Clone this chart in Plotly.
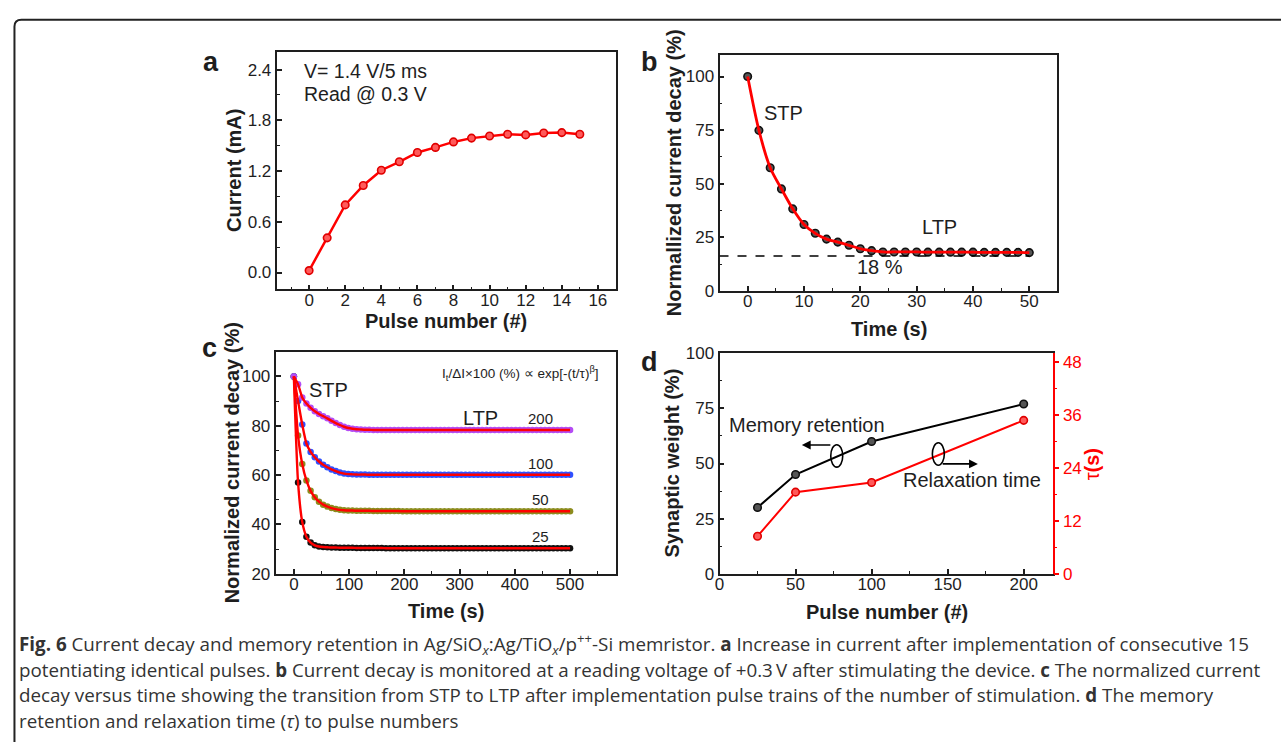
import plotly.graph_objects as go

W, H = 1281, 752

# ---------------- data ----------------
a_pulse = list(range(16))
a_current = [0.023, 0.41, 0.80, 1.03, 1.21, 1.31, 1.42, 1.48, 1.545, 1.59,
             1.615, 1.635, 1.628, 1.65, 1.655, 1.635]

b_time = list(range(0, 51, 2))
b_decay = [100, 74.9, 57.5, 47.6, 38.3, 31.0, 26.9, 24.2, 22.8, 21.3,
           19.7, 18.8, 18.2, 18.2, 18.2, 18.2, 18.1, 18.1, 18.1, 18.1,
           18.1, 18.0, 18.0, 18.0, 18.0, 17.9]
b_level = 16.3

c_time = [round(i * 500 / 66, 2) for i in range(67)]
c_25 = [100, 57.0, 41.0, 35.0, 32.6, 31.5, 31.0, 30.8, 30.7, 30.6,
        30.6, 30.5, 30.5, 30.5, 30.5, 30.4, 30.4, 30.4, 30.4, 30.4,
        30.4, 30.4, 30.3, 30.3, 30.3, 30.3, 30.3, 30.3, 30.3, 30.3,
        30.3, 30.3, 30.3, 30.3, 30.3, 30.3, 30.3, 30.3, 30.3, 30.3,
        30.3, 30.3, 30.3, 30.3, 30.3, 30.3, 30.3, 30.3, 30.3, 30.3,
        30.3, 30.3, 30.3, 30.3, 30.3, 30.3, 30.3, 30.3, 30.3, 30.3,
        30.3, 30.3, 30.3, 30.3, 30.3, 30.3, 30.3]
c_50 = [100, 76.0, 64.5, 57.8, 53.6, 51.0, 49.2, 48.0, 47.2, 46.6,
        46.2, 45.9, 45.7, 45.6, 45.6, 45.5, 45.5, 45.5, 45.5, 45.4,
        45.4, 45.4, 45.4, 45.4, 45.4, 45.4, 45.3, 45.3, 45.3, 45.3,
        45.3, 45.3, 45.3, 45.3, 45.3, 45.3, 45.3, 45.3, 45.3, 45.3,
        45.3, 45.3, 45.3, 45.3, 45.3, 45.3, 45.3, 45.3, 45.3, 45.3,
        45.3, 45.3, 45.3, 45.3, 45.3, 45.3, 45.3, 45.3, 45.3, 45.3,
        45.3, 45.3, 45.3, 45.3, 45.3, 45.3, 45.3]
c_100 = [100, 90.0, 80.5, 72.8, 69.4, 67.2, 65.5, 64.2, 63.2, 62.3,
         61.6, 61.0, 60.6, 60.4, 60.3, 60.2, 60.2, 60.2, 60.1, 60.1,
         60.1, 60.1, 60.1, 60.1, 60.1, 60.1, 60.1, 60.1, 60.1, 60.1,
         60.1, 60.1, 60.1, 60.1, 60.1, 60.1, 60.1, 60.1, 60.1, 60.1,
         60.1, 60.1, 60.1, 60.1, 60.1, 60.1, 60.1, 60.1, 60.1, 60.1,
         60.1, 60.1, 60.1, 60.1, 60.1, 60.1, 60.1, 60.1, 60.1, 60.1,
         60.1, 60.1, 60.1, 60.1, 60.1, 60.1, 60.1]
c_200 = [100, 96.8, 91.5, 89.0, 87.3, 85.9, 84.8, 83.9, 83.0, 82.0,
         81.1, 80.3, 79.6, 79.1, 78.8, 78.6, 78.5, 78.4, 78.4, 78.3,
         78.3, 78.3, 78.3, 78.3, 78.3, 78.3, 78.3, 78.3, 78.3, 78.3,
         78.3, 78.3, 78.3, 78.3, 78.3, 78.3, 78.3, 78.3, 78.3, 78.3,
         78.3, 78.3, 78.3, 78.3, 78.3, 78.3, 78.3, 78.3, 78.3, 78.3,
         78.3, 78.3, 78.3, 78.3, 78.3, 78.3, 78.3, 78.3, 78.3, 78.3,
         78.3, 78.3, 78.3, 78.3, 78.3, 78.3, 78.3]
c_series = [("25", c_25, "#111111"), ("50", c_50, "#8C8C1E"),
            ("100", c_100, "#2F50FF"), ("200", c_200, "#B44CF5")]

d_pulse = [25, 50, 100, 200]
d_weight = [30, 45, 60, 77]
d_tau = [8.5, 18.5, 20.7, 34.8]

# ---------------- helpers ----------------
def px(x):
    return x / W


def py(y):
    return 1 - y / H


FONT = "Liberation Sans, Arial, sans-serif"
INK = "#1e1e1e"
RED = "#FF0000"

RED_MK = dict(size=7.5, color="#FF5A5A", line=dict(color="#E00000", width=1.6))
BLK_MK = dict(size=7.5, color="#555555", line=dict(color="#111111", width=1.6))

fig = go.Figure()

# panel a
fig.add_trace(go.Scatter(x=a_pulse, y=a_current, mode="lines+markers",
                         line=dict(color=RED, width=2.5), marker=RED_MK,
                         xaxis="x", yaxis="y", showlegend=False))
# panel b
fig.add_trace(go.Scatter(x=b_time, y=b_decay, mode="markers", marker=BLK_MK,
                         xaxis="x2", yaxis="y2", showlegend=False))
fig.add_trace(go.Scatter(x=b_time, y=b_decay, mode="lines",
                         line=dict(color=RED, width=2.8, shape="spline", smoothing=0.8),
                         xaxis="x2", yaxis="y2", showlegend=False))
# panel c
for name, vals, col in c_series:
    fig.add_trace(go.Scatter(x=c_time, y=vals, mode="markers", name=name,
                             marker=dict(size=6.5, color=col),
                             xaxis="x3", yaxis="y3", showlegend=False))
for name, vals, col in c_series:
    fig.add_trace(go.Scatter(x=c_time, y=vals, mode="lines",
                             line=dict(color=RED, width=2.4, shape="spline", smoothing=0.6),
                             xaxis="x3", yaxis="y3", showlegend=False))
# panel d
fig.add_trace(go.Scatter(x=d_pulse, y=d_weight, mode="lines+markers",
                         line=dict(color="#000", width=2), marker=BLK_MK,
                         xaxis="x4", yaxis="y4", showlegend=False))
fig.add_trace(go.Scatter(x=d_pulse, y=d_tau, mode="lines+markers",
                         line=dict(color=RED, width=2), marker=RED_MK,
                         xaxis="x4", yaxis="y5", showlegend=False))


def ax(domain, rng, dtick, minor_dtick, anchor, fmt=None, mirror=True, **kw):
    d = dict(domain=domain, range=rng, dtick=dtick, tick0=0, anchor=anchor,
             showline=True, linecolor=INK, linewidth=1.8, mirror=mirror,
             ticks="inside", ticklen=5, tickwidth=1.5, tickcolor=INK,
             showgrid=False, zeroline=False,
             tickfont=dict(family=FONT, size=17, color=INK),
             minor=dict(ticks="inside", ticklen=3, tickwidth=1.2, tickcolor=INK,
                        dtick=minor_dtick, tick0=0, showgrid=False))
    if fmt:
        d["tickformat"] = fmt
    d.update(kw)
    return d


XSO = -6  # pull x tick labels closer to the axis line

fig.update_layout(
    width=W, height=H, margin=dict(l=0, r=0, t=0, b=0),
    paper_bgcolor="white", plot_bgcolor="white",
    font=dict(family=FONT, color=INK),
    xaxis=ax([px(272.7), px(613.3)], [-1.8, 17.0], 2, 1, "y", ticklabelstandoff=XSO),
    yaxis=ax([py(287.7), py(44)], [-0.2, 2.61], 0.6, 0.3, "x", fmt=".1f"),
    xaxis2=ax([px(717.3), px(1056.6)], [-5, 55], 10, 5, "y2", ticklabelstandoff=XSO),
    yaxis2=ax([py(289.3), py(47.3)], [0, 110], 25, 12.5, "x2"),
    xaxis3=ax([px(271.7), px(613.3)], [-33, 583], 100, 50, "y3", ticklabelstandoff=XSO),
    yaxis3=ax([py(579.3), py(351.7)], [20, 110], 20, 10, "x3"),
    xaxis4=ax([px(717.3), px(1051.7)], [0, 219], 50, 25, "y4", ticklabelstandoff=XSO),
    yaxis4=ax([py(579.3), py(353.3)], [0, 100], 25, 12.5, "x4", mirror=False),
    yaxis5=dict(overlaying="y4", side="right", anchor="x4", range=[0, 50],
                dtick=12, tick0=0, showline=True, linecolor=RED, linewidth=1.8,
                ticks="outside", ticklen=5, tickwidth=1.5, tickcolor=RED,
                showgrid=False, zeroline=False,
                tickfont=dict(family=FONT, size=17, color=RED),
                minor=dict(ticks="outside", ticklen=3, tickwidth=1.2, tickcolor=RED,
                           dtick=6, tick0=0, showgrid=False)),
)

anns = []


def ann(text, x, y, size=20, color=INK, xanchor="center", yanchor="middle",
        angle=0, family=FONT):
    anns.append(dict(text=text, x=px(x), y=py(y), xref="paper", yref="paper",
                     showarrow=False, xanchor=xanchor, yanchor=yanchor,
                     textangle=angle, font=dict(family=family, size=size, color=color)))


# panel letters
ann("<b>a</b>", 206.5, 54, 27)
ann("<b>b</b>", 647, 54, 27)
ann("<b>c</b>", 205, 347.5, 27)
ann("<b>d</b>", 647, 362, 27)

# axis titles
ann("<b>Current (mA)</b>", 230, 166, 20, angle=-90)
ann("<b>Pulse number (#)</b>", 443, 320, 20)
ann("<b>Normallized current decay (%)</b>", 671, 168, 20, angle=-90)
ann("<b>Time (s)</b>", 887, 328, 20)
ann("<b>Normalized current decay (%)</b>", 227.5, 465.5, 20, angle=-90)
ann("<b>Time (s)</b>", 442.5, 618, 20)
ann("<b>Synaptic weight (%)</b>", 670, 466, 20, angle=-90)
ann("<b>Pulse number (#)</b>", 885, 619, 20)
ann("τ<b>(s)</b>", 1090.7, 466.7, 20, color=RED, angle=-90)

# panel a texts
ann("V= 1.4 V/5 ms", 298, 63.3, 19.5, xanchor="left")
ann("Read @ 0.3 V", 298, 86.7, 19.5, xanchor="left")

# panel b texts
ann("STP", 781.7, 106.7, 20)
ann("LTP", 938.3, 223.3, 20)
ann("18 %", 878, 265, 20)

# panel c texts
ann("I<sub>t</sub>/ΔI×100 (%) ∝ exp[-(t/τ)<sup>β</sup>]", 598.3, 373.3, 13.5, xanchor="right")
ann("STP", 324.5, 391, 20)
ann("LTP", 477.5, 420, 20)
ann("200", 537.5, 420, 15)
ann("100", 537.5, 466.7, 15)
ann("50", 538, 503.3, 15)
ann("25", 538, 541, 15)

# panel d texts
ann("Memory retention", 805, 426.7, 20)
ann("Relaxation time", 970.8, 483.3, 20)
for hx, hy, dx in [(800, 447.3, 30), (976.7, 466.7, -36.7)]:
    anns.append(dict(text="", x=px(hx), y=py(hy), xref="paper", yref="paper",
                     showarrow=True, ax=dx, ay=0, arrowhead=2, arrowsize=1.1,
                     arrowwidth=1.6, arrowcolor="#000"))

# caption
CAP = "Open Sans, Noto Sans, sans-serif"
cap_lines = [
    "<b>Fig. 6</b> Current decay and memory retention in Ag/SiO<sub><i>x</i></sub>:Ag/TiO<sub><i>x</i></sub>/p<sup>++</sup>-Si memristor. "
    "<b>a</b> Increase in current after implementation of consecutive 15",
    "potentiating identical pulses. <b>b</b> Current decay is monitored at a reading voltage of +0.3\u2009V after stimulating the device. "
    "<b>c</b> The normalized current",
    "decay versus time showing the transition from STP to LTP after implementation pulse trains of the number of stimulation. "
    "<b>d</b> The memory",
    "retention and relaxation time (<i>τ</i>) to pulse numbers",
]
for txt, yy in zip(cap_lines, [651.7, 678.3, 704, 730]):
    ann(txt, 12, yy, 18.8, color="#333", xanchor="left", family=CAP)

fig.update_layout(annotations=anns)

shapes = []
# dashed 18% level in panel b
shapes.append(dict(type="line", xref="x2", yref="y2", x0=-5, x1=b_time[-1],
                   y0=b_level, y1=b_level, line=dict(color="#000", width=1.6, dash="dash")))
# ellipses in panel d
for x0, x1, y0, y1 in [(829, 841, 447, 470), (931, 943, 445, 468)]:
    shapes.append(dict(type="circle", xref="paper", yref="paper",
                       x0=px(x0), x1=px(x1), y0=py(y1), y1=py(y0),
                       line=dict(color="#000", width=1.6)))
# outer rounded frame (open at right/bottom)
shapes.append(dict(type="path", xref="paper", yref="paper",
                   path=f"M {px(9.5)} {py(752)} L {px(9.5)} {py(18)} "
                        f"Q {px(9.5)} {py(11)} {px(16.5)} {py(11)} L {px(1281)} {py(11)}",
                   line=dict(color="#222", width=2)))
fig.update_layout(shapes=shapes)

fig.write_html("out.html", config={"displayModeBar": False},
               post_script="document.body.style.margin='0';document.body.style.overflow='hidden';")
